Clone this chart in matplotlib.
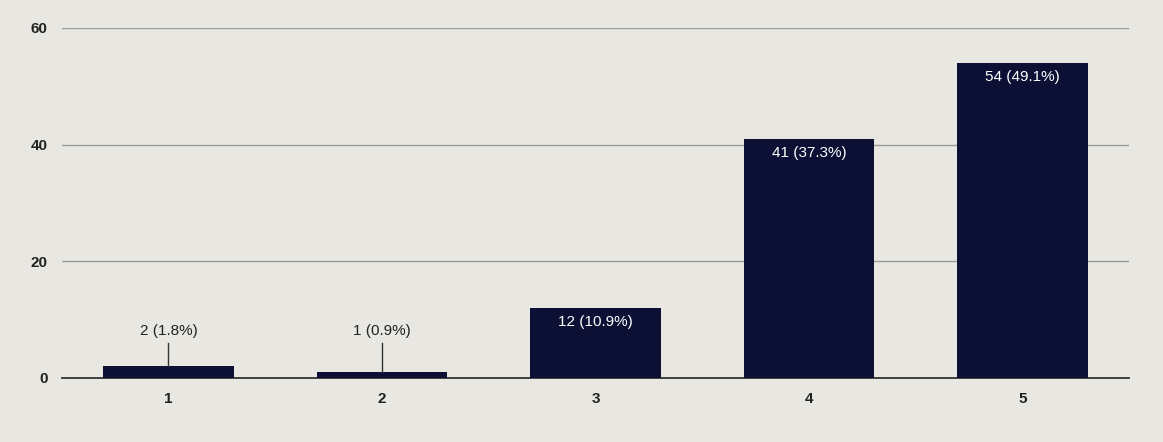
import matplotlib.pyplot as plt

# response counts per rating
ratings = ['1', '2', '3', '4', '5']
counts = [2, 1, 12, 41, 54]
labels = ['2 (1.8%)', '1 (0.9%)', '12 (10.9%)', '41 (37.3%)', '54 (49.1%)']

plt.rcParams['font.family'] = ['Liberation Sans', 'DejaVu Sans']

fig = plt.figure(figsize=(11.63, 4.42), dpi=100)
fig.patch.set_facecolor('#e9e7e1')
ax = fig.add_axes([0.053, 0.145, 0.918, 0.792])
ax.set_facecolor('#e9e7e1')

x = range(1, len(counts) + 1)
bars = ax.bar(x, counts, width=0.61, color='#0c1035', zorder=3)

# value labels: inside tall bars, above short ones with a leader line
for xi, c, lab in zip(x, counts, labels):
    if c >= 10:
        ax.text(xi, c - 1.2, lab, ha='center', va='top', color='white',
                fontsize=11, zorder=4)
    else:
        ax.plot([xi, xi], [c, 6], color='#333333', lw=1, zorder=4)
        ax.text(xi, 6.8, lab, ha='center', va='bottom', color='#222222',
                fontsize=11, zorder=4)

ax.set_xlim(0.5, 5.5)
ax.set_ylim(0, 60)
ax.set_yticks([0, 20, 40, 60])
ax.set_xticks(list(x))
ax.set_xticklabels(ratings)
ax.grid(axis='y', color='#9a9a98', lw=1, zorder=0)
for s in ['top', 'right', 'left']:
    ax.spines[s].set_visible(False)
ax.spines['bottom'].set_color('#333333')
ax.spines['bottom'].set_linewidth(1.3)
ax.tick_params(length=0, labelsize=11, colors='#222222', pad=10)
for t in ax.get_xticklabels() + ax.get_yticklabels():
    t.set_fontweight('bold')

plt.savefig('out.png', dpi=100, facecolor=fig.get_facecolor())
